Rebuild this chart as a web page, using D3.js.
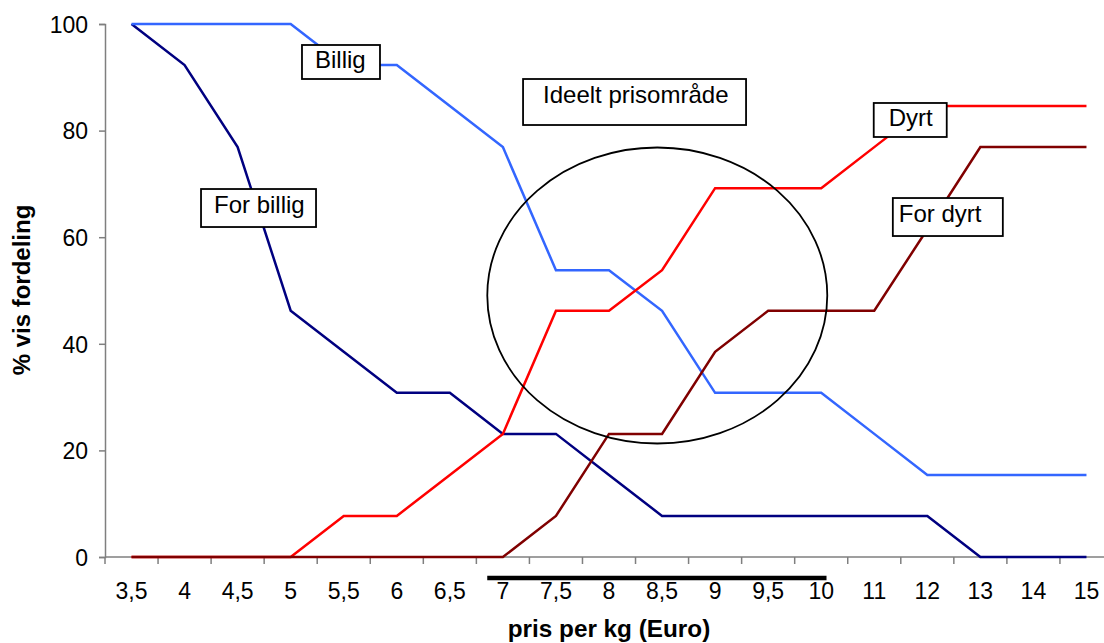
<!DOCTYPE html>
<html>
<head>
<meta charset="utf-8">
<script src="https://cdn.jsdelivr.net/npm/d3@7"></script>
<style>
  html, body { margin: 0; padding: 0; background: #fff; }
  svg { display: block; font-family: "Liberation Sans", Arial, sans-serif; }
</style>
</head>
<body>
<svg id="chart" width="1104" height="643"></svg>
<script>
// Price categories (Euro per kg)
const categories = ["3,5","4","4,5","5","5,5","6","6,5","7","7,5","8","8,5","9","9,5","10","11","12","13","14","15"];

// Cumulative share of answers (%) per price point
const forBillig = [100, 92.3, 76.9, 46.2, 38.5, 30.8, 30.8, 23.1, 23.1, 15.4, 7.7, 7.7, 7.7, 7.7, 7.7, 7.7, 0, 0, 0];
const billig    = [100, 100, 100, 100, 92.3, 92.3, 84.6, 76.9, 53.8, 53.8, 46.2, 30.8, 30.8, 30.8, 23.1, 15.4, 15.4, 15.4, 15.4];
const dyrt      = [0, 0, 0, 0, 7.7, 7.7, 15.4, 23.1, 46.2, 46.2, 53.8, 69.2, 69.2, 69.2, 76.9, 84.6, 84.6, 84.6, 84.6];
const forDyrt   = [0, 0, 0, 0, 0, 0, 0, 0, 7.7, 23.1, 23.1, 38.5, 46.2, 46.2, 46.2, 61.5, 76.9, 76.9, 76.9];

const yTicks = [0, 20, 40, 60, 80, 100];

const series = [
  { name: "For billig", values: forBillig, color: "#000080" },
  { name: "Billig",     values: billig,    color: "#3366FF" },
  { name: "Dyrt",       values: dyrt,      color: "#FF0000" },
  { name: "For dyrt",   values: forDyrt,   color: "#800000" }
];

const svg = d3.select("#chart");

const x = d3.scaleBand().domain(categories).range([105, 1113]).paddingInner(0).paddingOuter(0);
const cx = c => x(c) + x.bandwidth() / 2;
// fractional category position, used for placing drawn shapes
const xi = d3.scaleLinear().domain([0, categories.length - 1])
  .range([cx(categories[0]), cx(categories[categories.length - 1])]);
const y = d3.scaleLinear().domain([0, 100]).range([557, 24]);

const axisColor = "#7f7f7f";

// Y axis
const yAxis = svg.append("g").attr("transform", "translate(105,0)")
  .call(d3.axisLeft(y).tickValues(yTicks).tickSize(6).tickPadding(11));
yAxis.select(".domain").attr("stroke", axisColor).attr("stroke-width", 1.5);
yAxis.selectAll(".tick line").attr("stroke", axisColor).attr("stroke-width", 1.5);
yAxis.selectAll(".tick text").attr("fill", "#000").attr("font-size", 23)
  .attr("font-family", "'Liberation Sans', Arial, sans-serif").attr("dy", "0.36em");

// X axis with ticks between categories
const xAxisG = svg.append("g");
xAxisG.append("line").attr("x1", 105).attr("x2", 1113).attr("y1", y(0)).attr("y2", y(0))
  .attr("stroke", axisColor).attr("stroke-width", 1.5);
xAxisG.selectAll("line.tk").data(categories.concat(["end"])).join("line").attr("class", "tk")
  .attr("x1", (d, i) => 105 + i * x.step()).attr("x2", (d, i) => 105 + i * x.step())
  .attr("y1", y(0)).attr("y2", y(0) + 7)
  .attr("stroke", axisColor).attr("stroke-width", 1.5);
xAxisG.selectAll("text").data(categories).join("text")
  .attr("x", d => cx(d)).attr("y", y(0) + 42)
  .attr("text-anchor", "middle").attr("font-size", 23).text(d => d);

// Series lines
const line = d3.line().x((d, i) => cx(categories[i])).y(d => y(d));
svg.append("g").selectAll("path").data(series).join("path")
  .attr("d", s => line(s.values))
  .attr("fill", "none").attr("stroke", s => s.color)
  .attr("stroke-width", 2.5).attr("stroke-linejoin", "miter");

// Ideal price range: ellipse and bar under the axis
svg.append("ellipse")
  .attr("cx", xi(9.91)).attr("cy", y(49.06))
  .attr("rx", 170).attr("ry", 148)
  .attr("fill", "none").attr("stroke", "#000").attr("stroke-width", 1.8);

svg.append("line")
  .attr("x1", xi(6.705)).attr("x2", xi(13.1))
  .attr("y1", y(0) + 21).attr("y2", y(0) + 21)
  .attr("stroke", "#000").attr("stroke-width", 4.5);

// Text boxes
const notes = [
  { text: "Billig",             i: 3.213, v: 96.06, w: 78,  h: 34, dx: 13, dy: 23 },
  { text: "For billig",         i: 1.31,  v: 69.04, w: 115, h: 38, dx: 13, dy: 24 },
  { text: "Ideelt prisområde",  i: 7.38,  v: 89.68, w: 223, h: 46, dx: 20, dy: 24 },
  { text: "Dyrt",               i: 13.99, v: 85.18, w: 73,  h: 34, dx: 15, dy: 23 },
  { text: "For dyrt",           i: 14.35, v: 67.35, w: 110, h: 38, dx: 6,  dy: 24 }
];
const ng = svg.append("g").selectAll("g").data(notes).join("g")
  .attr("transform", d => `translate(${xi(d.i)},${y(d.v)})`);
ng.append("rect").attr("width", d => d.w).attr("height", d => d.h)
  .attr("fill", "#fff").attr("stroke", "#000").attr("stroke-width", 1.8);
ng.append("text").attr("x", d => d.dx).attr("y", d => d.dy)
  .attr("font-size", 24).text(d => d.text);

// Axis titles
svg.append("text").attr("x", 609).attr("y", 637).attr("text-anchor", "middle")
  .attr("font-size", 24.3).attr("font-weight", "bold").text("pris per kg (Euro)");
svg.append("text").attr("transform", "translate(30,290) rotate(-90)").attr("text-anchor", "middle")
  .attr("font-size", 24).attr("font-weight", "bold").text("% vis fordeling");
</script>
</body>
</html>
